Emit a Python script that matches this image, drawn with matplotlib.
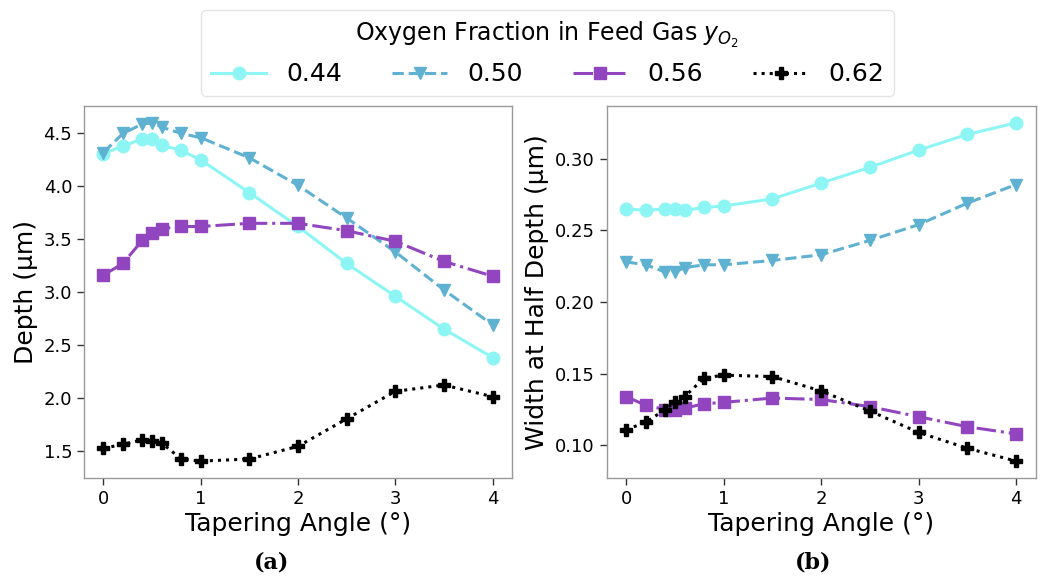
import matplotlib
matplotlib.use("Agg")
import matplotlib.pyplot as plt

# tapering angle (deg)
angles = [0, 0.2, 0.4, 0.5, 0.6, 0.8, 1, 1.5, 2, 2.5, 3, 3.5, 4]
fractions = ["0.44", "0.50", "0.56", "0.62"]

depth_044 = [4.31, 4.38, 4.45, 4.45, 4.39, 4.34, 4.25, 3.94, 3.62, 3.27, 2.96, 2.65, 2.38]
depth_050 = [4.32, 4.50, 4.59, 4.60, 4.56, 4.50, 4.46, 4.27, 4.01, 3.70, 3.38, 3.02, 2.69]
depth_056 = [3.16, 3.27, 3.49, 3.56, 3.60, 3.62, 3.62, 3.65, 3.65, 3.58, 3.48, 3.29, 3.15]
depth_062 = [1.52, 1.56, 1.60, 1.59, 1.57, 1.42, 1.40, 1.42, 1.54, 1.80, 2.06, 2.12, 2.01]

width_044 = [0.265, 0.264, 0.265, 0.265, 0.264, 0.266, 0.267, 0.272, 0.283, 0.294, 0.306, 0.317, 0.325]
width_050 = [0.228, 0.226, 0.221, 0.221, 0.224, 0.226, 0.226, 0.229, 0.233, 0.243, 0.254, 0.269, 0.282]
width_056 = [0.134, 0.128, 0.125, 0.125, 0.126, 0.129, 0.130, 0.133, 0.132, 0.127, 0.120, 0.113, 0.108]
width_062 = [0.111, 0.116, 0.125, 0.130, 0.134, 0.147, 0.149, 0.148, 0.138, 0.124, 0.109, 0.098, 0.089]

depths = [depth_044, depth_050, depth_056, depth_062]
widths = [width_044, width_050, width_056, width_062]

styles = [
    dict(color="#8ef5f5", linestyle="-", marker="o"),
    dict(color="#5fb1d2", linestyle="--", marker="v"),
    dict(color="#9146c0", linestyle="-.", marker="s"),
    dict(color="black", linestyle=":", marker="P"),
]


def style_axes(ax, ylabel):
    ax.set_xlabel("Tapering Angle (°)", fontsize=18, labelpad=3)
    ax.set_ylabel(ylabel, fontsize=18, labelpad=4)
    ax.set_xticks([0, 1, 2, 3, 4])
    ax.tick_params(axis="both", labelsize=13, direction="out", length=5,
                   width=1, color="#333333")
    for sp in ax.spines.values():
        sp.set_color("#999999")
        sp.set_linewidth(1)


fig = plt.figure(figsize=(10.46, 5.79), dpi=100)
ax_a = fig.add_axes([0.0803, 0.1744, 0.4092, 0.6425])
ax_b = fig.add_axes([0.5800, 0.1744, 0.4100, 0.6425])

handles = []
for frac, d, w, st in zip(fractions, depths, widths, styles):
    h, = ax_a.plot(angles, d, linewidth=2.2, markersize=9, label=frac, **st)
    ax_b.plot(angles, w, linewidth=2.2, markersize=9, **st)
    handles.append(h)

style_axes(ax_a, "Depth (µm)")
style_axes(ax_b, "Width at Half Depth (µm)")
ax_a.set_yticks([1.5, 2.0, 2.5, 3.0, 3.5, 4.0, 4.5])
ax_b.set_yticks([0.10, 0.15, 0.20, 0.25, 0.30])

leg = fig.legend(handles=handles, labels=fractions, loc="upper center",
                 bbox_to_anchor=(0.5235, 0.983), borderaxespad=0, ncol=4,
                 fontsize=18, title="Oxygen Fraction in Feed Gas $y_{O_2}$",
                 title_fontsize=17, frameon=True, columnspacing=2.0,
                 handlelength=2.2, handletextpad=0.8, borderpad=0.4)
leg.get_frame().set_edgecolor("#dddddd")

fig.text(0.26, 0.028, "(a)", ha="center", va="center", fontsize=16,
         family="DejaVu Serif", fontweight="bold")
fig.text(0.777, 0.028, "(b)", ha="center", va="center", fontsize=16,
         family="DejaVu Serif", fontweight="bold")

fig.savefig("out.png", dpi=100)
